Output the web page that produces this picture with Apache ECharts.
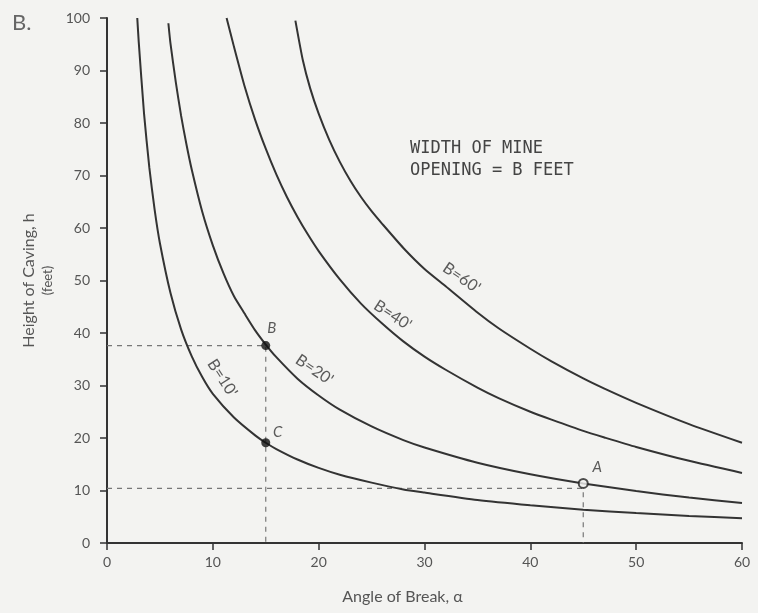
<!DOCTYPE html>
<html>
<head>
<meta charset="utf-8">
<script src="https://cdn.jsdelivr.net/npm/echarts@6/dist/echarts.min.js"></script>
<style>
  html, body { margin: 0; padding: 0; background: #f3f3f1; }
  #chart { width: 758px; height: 613px; }
</style>
</head>
<body>
<div id="chart"></div>
<script>
// --- 读图得到的数据 (angle α, height h) ---
const xTicks = [0, 10, 20, 30, 40, 50, 60];
const yTicks = [0, 10, 20, 30, 40, 50, 60, 70, 80, 90, 100];

const b10Angle  = [2.86, 3, 3.5, 4, 4.5, 5, 6, 7, 8, 9, 10, 12, 14, 15, 16, 18, 20, 22, 25, 28, 30, 35, 40, 45, 50, 55, 60];
const b10Height = [100, 95.4, 81.8, 71.5, 63.5, 57.1, 47.6, 40.7, 35.6, 31.6, 28.4, 23.9, 20.5, 19.1, 17.9, 15.9, 14.3, 13.0, 11.5, 10.2, 9.6, 8.2, 7.2, 6.35, 5.7, 5.15, 4.7];

const b20Angle  = [5.8, 6, 6.5, 7, 7.5, 8, 9, 10, 11, 12, 13, 14, 15, 16, 18, 20, 22, 25, 28, 30, 35, 40, 45, 50, 55, 60];
const b20Height = [99, 95.1, 87.8, 81.4, 76.0, 71.2, 63.1, 56.7, 51.4, 47.0, 43.7, 40.5, 37.8, 35.4, 31.3, 28.1, 25.4, 22.2, 19.6, 18.2, 15.3, 13.1, 11.35, 9.9, 8.65, 7.6];

const b40Angle  = [11.3, 12, 13, 14, 15, 16, 17, 18, 19, 20, 22, 24, 26, 28, 30, 32, 35, 37, 40, 42, 45, 47, 50, 55, 60];
const b40Height = [100, 94.5, 87.0, 80.6, 75.1, 70.2, 65.9, 62.1, 58.7, 55.6, 50.2, 45.6, 41.8, 38.4, 35.5, 33.0, 29.6, 27.6, 25.0, 23.5, 21.35, 20.1, 18.3, 15.65, 13.35];

const b60Angle  = [17.8, 18.5, 19.2, 20, 21, 22, 23, 24, 25, 26, 28, 30, 32, 35, 37, 40, 42, 45, 47, 50, 55, 60];
const b60Height = [99.5, 92, 86.6, 81.8, 76.8, 72.6, 69, 65.9, 63.2, 60.8, 56.2, 52.2, 48.9, 43.9, 40.9, 37.0, 34.6, 31.35, 29.4, 26.7, 22.65, 19.1];

// 标记点 A / B / C
const pointNames  = ['B', 'C', 'A'];
const pointAngle  = [15, 15, 45];
const pointHeight = [37.6, 19.1, 11.35];

// 虚线辅助线
const guideB = [[0, 37.6], [15, 37.6], [15, 0]];
const guideA = [[0, 10.4], [45, 10.4], [45, 0]];

// 曲线标注 (位置 + 旋转角)
const curveLabels = ["B=10'", "B=20'", "B=40'", "B=60'"];
const curveLabelAngle  = [10.9, 19.6, 27.0, 33.5];
const curveLabelHeight = [31.4, 33, 43.4, 50.5];
const curveLabelRotate = [-57, -34, -33, -34];

const zip = (xs, ys) => xs.map((x, i) => [x, ys[i]]);

const ink = '#333';
const bg = '#f3f3f1';
const axisText = { color: '#555', fontSize: 14, fontFamily: 'Lato, "DejaVu Sans", sans-serif' };

const curve = (name, xs, ys) => ({
  name,
  type: 'line',
  data: zip(xs, ys),
  smooth: 0.2,
  showSymbol: false,
  lineStyle: { color: ink, width: 2 },
  z: 3
});

const guide = (data) => ({
  type: 'line',
  data,
  showSymbol: false,
  lineStyle: { color: '#777', width: 1.2, type: [5, 5] },
  z: 2
});

const chart = echarts.init(document.getElementById('chart'));

const option = {
  backgroundColor: bg,
  animation: false,
  grid: { left: 107, right: 16, top: 18, bottom: 70 },
  xAxis: {
    type: 'value',
    min: xTicks[0],
    max: xTicks[xTicks.length - 1],
    interval: 10,
    name: 'Angle of Break, α',
    nameLocation: 'middle',
    nameGap: 46,
    nameTextStyle: Object.assign({}, axisText, { fontSize: 16, padding: [0, 44, 0, 0] }),
    axisLine: { lineStyle: { color: '#333', width: 2 } },
    axisTick: { length: 7, lineStyle: { color: '#333', width: 1.5 } },
    axisLabel: Object.assign({}, axisText, { margin: 12 }),
    splitLine: { show: false }
  },
  yAxis: {
    type: 'value',
    min: yTicks[0],
    max: yTicks[yTicks.length - 1],
    interval: 10,
    name: '{a|Height of Caving, h}\n{b|(feet)}',
    nameLocation: 'middle',
    nameRotate: 90,
    nameGap: 50,
    nameTextStyle: Object.assign({}, axisText, {
      rich: {
        a: { fontSize: 16, color: '#555', lineHeight: 20, fontFamily: axisText.fontFamily },
        b: { fontSize: 13, color: '#555', lineHeight: 18, fontFamily: axisText.fontFamily }
      }
    }),
    axisLine: { lineStyle: { color: '#333', width: 2 } },
    axisTick: { length: 7, lineStyle: { color: '#333', width: 1.5 } },
    axisLabel: Object.assign({}, axisText, { margin: 17 }),
    splitLine: { show: false }
  },
  graphic: [
    {
      type: 'text', left: 12, top: 12,
      style: { text: 'B.', fill: '#666', font: '22px Lato, "DejaVu Sans", sans-serif' }
    },
    {
      type: 'text', left: 410, top: 138,
      style: {
        text: 'WIDTH OF MINE\nOPENING = B FEET',
        fill: '#444',
        lineHeight: 22,
        font: '17px "DejaVu Sans Mono", "Liberation Mono", monospace'
      }
    }
  ],
  series: [
    guide(guideB),
    guide(guideA),
    curve("B=10'", b10Angle, b10Height),
    curve("B=20'", b20Angle, b20Height),
    curve("B=40'", b40Angle, b40Height),
    curve("B=60'", b60Angle, b60Height),
    {
      type: 'scatter',
      z: 5,
      data: pointNames.map((n, i) => ({
        name: n,
        value: [pointAngle[i], pointHeight[i]],
        symbol: 'circle',
        symbolSize: 9,
        itemStyle: n === 'A'
          ? { color: bg, borderColor: '#222', borderWidth: 2 }
          : { color: '#111' },
        label: {
          show: true,
          formatter: '{b}',
          position: 'top',
          offset: n === 'B' ? [6, 0] : (n === 'C' ? [12, 6] : [14, 2]),
          color: '#333',
          fontSize: 15,
          fontStyle: 'italic',
          fontFamily: 'Lato, "DejaVu Sans", sans-serif'
        }
      }))
    },
    {
      type: 'scatter',
      symbolSize: 0,
      silent: true,
      z: 6,
      data: curveLabels.map((t, i) => ({
        name: t,
        value: [curveLabelAngle[i], curveLabelHeight[i]],
        label: { rotate: curveLabelRotate[i] }
      })),
      label: {
        show: true,
        formatter: '{b}',
        position: 'inside',
        color: '#333',
        fontSize: 16,
        fontFamily: 'Lato, "DejaVu Sans", sans-serif'
      }
    }
  ]
};

chart.setOption(option);
</script>
</body>
</html>
